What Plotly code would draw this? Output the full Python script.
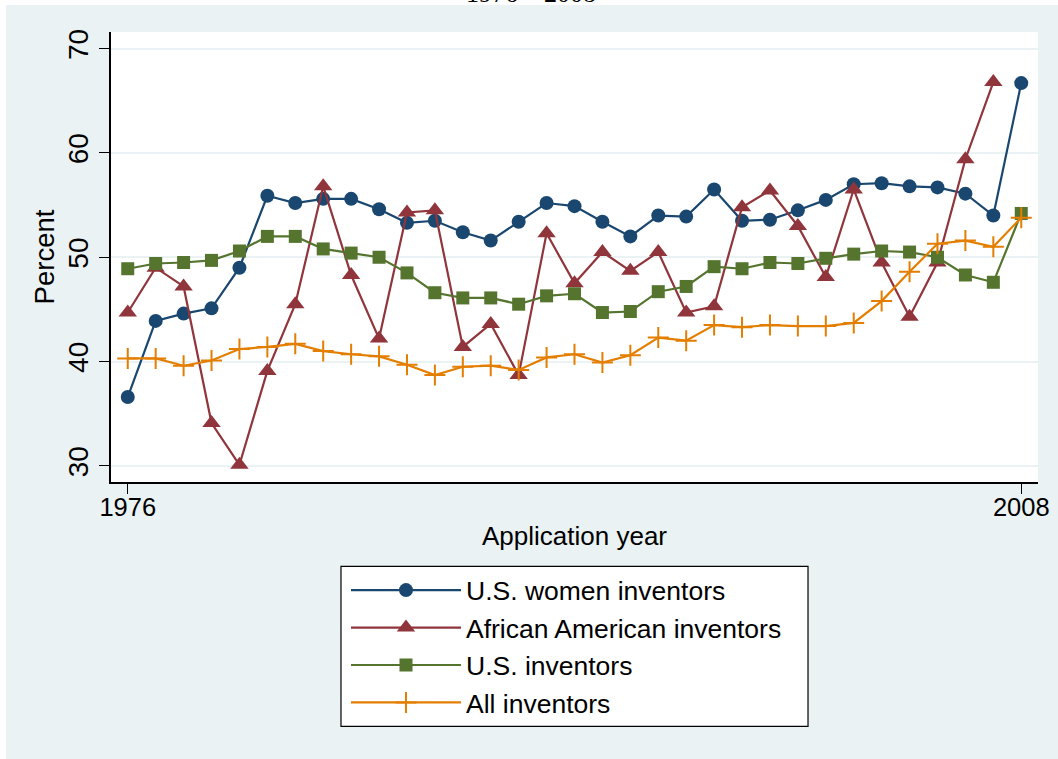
import plotly.graph_objects as go

# Share of patents by application year
years = [1976, 1977, 1978, 1979, 1980, 1981, 1982, 1983, 1984, 1985, 1986,
         1987, 1988, 1989, 1990, 1991, 1992, 1993, 1994, 1995, 1996, 1997,
         1998, 1999, 2000, 2001, 2002, 2003, 2004, 2005, 2006, 2007, 2008]

us_women = [36.6, 43.9, 44.6, 45.1, 49.0, 55.9, 55.2, 55.6, 55.6, 54.6, 53.3,
            53.5, 52.4, 51.6, 53.4, 55.2, 54.9, 53.4, 52.0, 54.0, 53.9, 56.5,
            53.5, 53.6, 54.5, 55.5, 57.0, 57.1, 56.8, 56.7, 56.1, 54.0, 66.7]
african_american = [44.7, 49.0, 47.2, 34.1, 30.1, 39.1, 45.5, 56.8, 48.3, 42.2, 54.3,
                    54.5, 41.4, 43.6, 38.7, 52.3, 47.5, 50.5, 48.7, 50.5, 44.7, 45.3,
                    54.8, 56.4, 53.0, 48.1, 56.5, 49.5, 44.3, 49.5, 59.4, 66.8, None]
us_all = [48.9, 49.4, 49.5, 49.7, 50.6, 52.0, 52.0, 50.8, 50.4, 50.0, 48.5,
          46.6, 46.1, 46.1, 45.5, 46.3, 46.5, 44.7, 44.8, 46.7, 47.2, 49.1,
          48.9, 49.5, 49.4, 49.9, 50.3, 50.6, 50.5, 50.0, 48.3, 47.6, 54.2]
all_inventors = [40.3, 40.3, 39.6, 40.1, 41.2, 41.4, 41.7, 41.0, 40.7, 40.5, 39.7,
                 38.7, 39.5, 39.6, 39.2, 40.4, 40.7, 39.9, 40.6, 42.3, 42.0, 43.5,
                 43.3, 43.5, 43.4, 43.4, 43.7, 45.8, 48.6, 51.3, 51.6, 51.0, 53.8]

series_names = ["U.S. women inventors", "African American inventors",
                "U.S. inventors", "All inventors"]

y_ticks = [30, 40, 50, 60, 70]
x_ticks = [1976, 2008]

FONT = "Liberation Sans, Arial, sans-serif"
BG = "#eaf2f3"

fig = go.Figure()

styles = [
    dict(color="#1a476f", symbol="circle", size=14),
    dict(color="#90353b", symbol="triangle-up", size=16),
    dict(color="#55752f", symbol="square", size=13),
    dict(color="#e37e00", symbol="cross-thin", size=15),
]

for name, vals, st in zip(series_names, [us_women, african_american, us_all, all_inventors], styles):
    marker = dict(symbol=st["symbol"], size=st["size"], color=st["color"])
    if st["symbol"] == "cross-thin":
        marker["line"] = dict(color=st["color"], width=2)
    else:
        marker["line"] = dict(width=0)
    fig.add_trace(go.Scatter(x=years, y=vals, name=name, mode="lines+markers",
                             line=dict(color=st["color"], width=2.2),
                             marker=marker, connectgaps=False))

fig.update_layout(
    width=1058, height=759,
    margin=dict(l=111, r=20, t=32, b=277, autoexpand=False),
    paper_bgcolor=BG,
    plot_bgcolor="white",
    font=dict(family=FONT, size=26, color="black"),
    showlegend=True,
    # legend box itself is drawn as a shape below so it can be wider
    legend=dict(x=0.2535, y=-0.1875, xanchor="left", yanchor="top",
                bgcolor="rgba(0,0,0,0)", borderwidth=0,
                font=dict(size=26.5), itemwidth=110, tracegroupgap=0),
    shapes=[
        # white strips round the grey graph region
        dict(type="rect", xref="paper", yref="paper", x0=-0.2, x1=1.1,
             y0=1.06, y1=1.2, fillcolor="white", line_width=0, layer="below"),
        dict(type="rect", xref="paper", yref="paper", x0=-0.2, x1=-0.1133,
             y0=-0.7, y1=1.2, fillcolor="white", line_width=0, layer="below"),
        # legend frame
        dict(type="rect", xref="paper", yref="paper", x0=0.2481, x1=0.7519,
             y0=-0.5432, y1=-0.1875, fillcolor="white",
             line=dict(color="black", width=1.2), layer="below"),
    ],
    annotations=[
        dict(text="1976 – 2008", xref="paper", yref="paper", x=0.4536, y=1,
             xanchor="center", yanchor="bottom", yshift=22, showarrow=False,
             font=dict(family="Liberation Serif, serif", size=26, color="black")),
    ],
)

fig.update_xaxes(range=[1975.4, 2008.6], tickvals=x_ticks, ticks="outside", ticklen=10,
                 tickcolor="black", showline=True, linecolor="black", linewidth=1.5,
                 showgrid=False, zeroline=False, tickfont=dict(size=25.5),
                 ticklabelstandoff=-8,
                 title=dict(text="Application year", standoff=6, font=dict(size=26)))
fig.update_yaxes(range=[28.45, 71.6], tickvals=y_ticks, ticks="outside", ticklen=10,
                 tickcolor="black", showline=True, linecolor="black", linewidth=1.5,
                 tickangle=-90, showgrid=True, gridcolor=BG, gridwidth=2,
                 tickfont=dict(size=28),
                 zeroline=False, title=dict(text="Percent", standoff=0, font=dict(size=27.5)))

fig.write_html("out.html", config={"displayModeBar": False},
               post_script="document.body.style.margin = '0';")
